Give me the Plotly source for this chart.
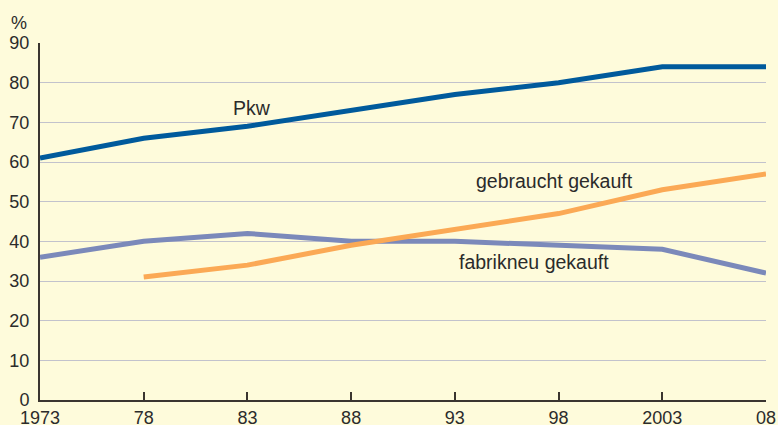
import plotly.graph_objects as go

years = [1973, 1978, 1983, 1988, 1993, 1998, 2003, 2008]
tick_labels = ["1973", "78", "83", "88", "93", "98", "2003", "08"]
pkw = [61, 66, 69, 73, 77, 80, 84, 84]
gebraucht_years = [1978, 1983, 1988, 1993, 1998, 2003, 2008]
gebraucht = [31, 34, 39, 43, 47, 53, 57]
fabrikneu = [36, 40, 42, 40, 40, 39, 38, 32]

bg = "#FEFBDB"
font = dict(family="Liberation Sans, Arial, sans-serif", size=18, color="#2b2b2b")
afont = dict(family="Liberation Sans, Arial, sans-serif", size=19.5, color="#2b2b2b")

fig = go.Figure()
fig.add_trace(go.Scatter(x=years, y=fabrikneu, mode="lines",
                         line=dict(color="#7B89BA", width=5), hoverinfo="skip"))
fig.add_trace(go.Scatter(x=gebraucht_years, y=gebraucht, mode="lines",
                         line=dict(color="#FBA955", width=5), hoverinfo="skip"))
fig.add_trace(go.Scatter(x=years, y=pkw, mode="lines",
                         line=dict(color="#005A9C", width=5), hoverinfo="skip"))

fig.add_annotation(x=1983.2, y=73.5, text="Pkw", showarrow=False, font=afont)
fig.add_annotation(x=1997.78, y=55.3, text="gebraucht gekauft", showarrow=False, font=afont)
fig.add_annotation(x=1996.8, y=34.8, text="fabrikneu gekauft", showarrow=False, font=afont)
fig.add_annotation(x=0, y=1, xref="paper", yref="paper", xanchor="left", yanchor="bottom",
                   xshift=-31, yshift=8, text="%", showarrow=False, font=font)

fig.update_layout(
    width=778, height=425,
    margin=dict(l=40, r=12, t=43, b=25),
    paper_bgcolor=bg, plot_bgcolor=bg,
    showlegend=False, font=font,
)
fig.update_xaxes(range=[1973, 2008], tickvals=years, ticktext=tick_labels,
                 showgrid=False, zeroline=False, showline=True, linecolor="#3a3530",
                 linewidth=2, ticks="inside", ticklen=8, tickwidth=1.5, tickcolor="#3a3530",
                 tickfont=font, automargin=False)
fig.update_yaxes(range=[0, 90], tickvals=list(range(0, 91, 10)), showgrid=True,
                 gridcolor="#C2C2CC", gridwidth=1, zeroline=False, showline=True,
                 linecolor="#3a3530", linewidth=2, ticks="", ticklabelstandoff=5,
                 tickfont=font, automargin=False)

fig.write_html("out.html", config={"displayModeBar": False},
               post_script="document.body.style.margin='0';document.body.style.background='%s';" % bg)
